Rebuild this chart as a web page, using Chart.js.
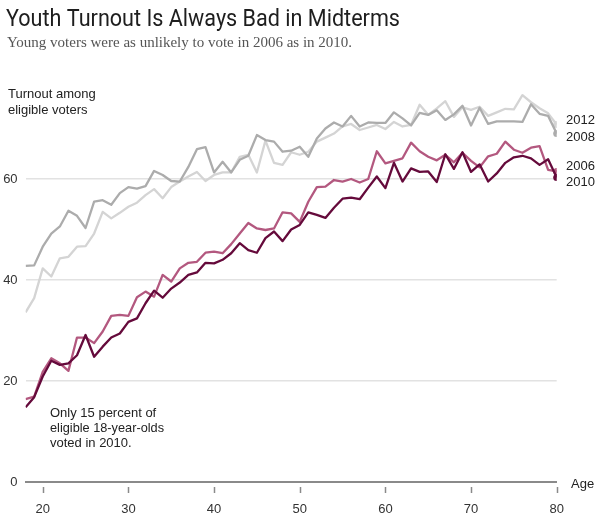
<!DOCTYPE html>
<html>
<head>
<meta charset="utf-8">
<script src="https://cdn.jsdelivr.net/npm/chart.js@4.4.1/dist/chart.umd.min.js"></script>
<style>
  html, body { margin: 0; padding: 0; background: #ffffff; }
  #wrap { width: 607px; height: 522px; }
</style>
</head>
<body>
<div id="wrap"><canvas id="c" width="607" height="522"></canvas></div>
<script>
const ages = [18,19,20,21,22,23,24,25,26,27,28,29,30,31,32,33,34,35,36,37,38,39,40,41,42,43,44,45,46,47,48,49,50,51,52,53,54,55,56,57,58,59,60,61,62,63,64,65,66,67,68,69,70,71,72,73,74,75,76,77,78,79,80];

const turnout2012 = [33.6,36.4,42.3,40.7,44.3,44.6,46.6,46.7,49.2,53.5,52.2,53.3,54.5,55.3,56.8,58.0,56.2,58.4,59.5,60.5,61.4,59.6,60.8,61.3,61.3,64.4,64.8,61.3,67.6,63.2,62.8,65.3,64.8,65.4,67.4,68.2,69.0,70.4,70.9,69.7,70.2,70.7,69.9,71.3,70.4,70.7,74.7,72.7,74.0,75.4,72.3,74.2,73.7,74.3,72.5,73.2,73.9,73.8,76.6,75.2,74.0,73.0,70.8];

const turnout2008 = [42.8,42.9,46.6,49.2,50.6,53.7,52.7,50.3,55.5,55.8,54.9,57.2,58.4,58.1,58.6,61.6,60.8,59.6,59.5,62.4,65.9,66.3,61.3,63.4,61.3,63.8,64.6,68.7,67.7,67.4,65.4,65.6,66.4,64.4,68.0,70.0,71.2,70.4,72.5,70.4,71.2,71.1,71.1,73.2,72.0,70.6,73.1,72.7,73.6,71.7,72.8,74.5,70.6,74.1,70.9,71.4,71.4,71.4,71.3,74.8,72.9,72.5,69.0];

const turnout2006 = [16.4,16.9,21.8,24.5,23.5,22.0,28.6,28.6,27.5,29.8,32.9,33.1,32.9,36.6,37.7,36.7,41.0,39.7,42.3,43.4,43.6,45.4,45.6,45.3,47.1,49.2,51.3,50.2,49.9,50.2,53.4,53.2,51.5,55.5,58.4,58.5,59.8,59.5,60.0,59.3,60.0,65.5,63.1,63.6,64.1,67.2,65.5,64.4,63.7,64.8,63.3,65.2,63.6,62.3,64.5,65.0,67.4,65.8,65.2,66.2,66.5,61.8,61.5];

const turnout2010 = [14.8,16.8,20.9,24.0,23.2,23.5,25.1,29.1,24.8,26.8,28.6,29.4,31.7,32.4,35.4,37.9,36.5,38.3,39.5,41.0,41.5,43.4,43.3,44.0,45.3,47.3,45.9,45.4,48.3,49.6,47.7,50.0,50.9,53.4,52.9,52.3,54.3,56.1,56.3,56.0,58.3,60.5,58.2,63.2,59.5,62.1,61.4,61.5,59.4,64.9,62.0,65.3,61.4,62.9,59.5,61.1,63.2,64.3,64.6,64.1,62.8,63.9,60.3];

const seriesLabels = ['2010', '2006', '2008', '2012'];
const xTickValues = [20, 30, 40, 50, 60, 70, 80];
const yTickValues = [0, 20, 40, 60];

const title = 'Youth Turnout Is Always Bad in Midterms';
const subtitle = 'Young voters were as unlikely to vote in 2006 as in 2010.';
const axisCaption = ['Turnout among', 'eligible voters'];
const note = ['Only 15 percent of', 'eligible 18-year-olds', 'voted in 2010.'];

const colors = { '2010': '#650a3b', '2006': '#b3587f', '2008': '#acacac', '2012': '#d4d4d4' };
const labelOffsets = { '2012': -4.5, '2008': 3.5, '2006': -5.5, '2010': 4.5 };
const seriesData = { '2010': turnout2010, '2006': turnout2006, '2008': turnout2008, '2012': turnout2012 };

function toPoints(arr) { return arr.map((v, i) => ({ x: ages[i], y: v })); }

const SANS = '"Liberation Sans", Arial, sans-serif';

const decor = {
  id: 'decor',
  afterDraw(chart) {
    const ctx = chart.ctx;
    const xs = chart.scales.x, ys = chart.scales.y;
    ctx.save();
    // title
    ctx.fillStyle = '#1e1e1e';
    ctx.textBaseline = 'alphabetic';
    ctx.textAlign = 'left';
    ctx.font = '400 24px Roboto, ' + SANS;
    ctx.fillText(title, 6, 26, 394);
    ctx.fillStyle = '#555';
    ctx.font = '15px "Liberation Serif", "Times New Roman", serif';
    ctx.fillText(subtitle, 7, 47, 351);
    // axis caption
    ctx.fillStyle = '#222';
    ctx.font = '13px ' + SANS;
    ctx.fillText(axisCaption[0], 8, 97.5, 91);
    ctx.fillText(axisCaption[1], 8, 113.5, 91);
    // note
    note.forEach((t, i) => ctx.fillText(t, 50, 416.5 + i * 15, 114));
    // Age label
    ctx.textBaseline = 'middle';
    ctx.fillText('Age', 571, 484);
    // series labels
    const last = ages.length - 1;
    seriesLabels.forEach(k => {
      const y = ys.getPixelForValue(seriesData[k][last]) + labelOffsets[k];
      ctx.fillText(k, 566, y);
    });
    // x tick marks
    ctx.strokeStyle = '#8a8a8a';
    ctx.lineWidth = 1.5;
    xTickValues.forEach(v => {
      const px = Math.round(xs.getPixelForValue(v)) + 0.5;
      ctx.beginPath();
      ctx.moveTo(px, 487);
      ctx.lineTo(px, 493);
      ctx.stroke();
    });
    ctx.restore();
  }
};

const datasets = seriesLabels.map(k => ({
  label: k,
  data: toPoints(seriesData[k]),
  borderColor: colors[k],
  backgroundColor: colors[k],
  borderWidth: 2.3,
  tension: 0,
  borderJoinStyle: 'round',
  pointRadius: ctx => ctx.dataIndex === ages.length - 1 ? 3.5 : 0,
  pointHoverRadius: 0,
  pointBorderWidth: 0,
  fill: false
}));

new Chart(document.getElementById('c'), {
  type: 'line',
  data: { datasets },
  options: {
    responsive: false,
    animation: false,
    events: [],
    layout: { padding: { top: 78, right: 50.3, left: 0, bottom: 0 } },
    plugins: { legend: { display: false }, tooltip: { enabled: false }, title: { display: false } },
    scales: {
      x: {
        type: 'linear',
        min: 18,
        max: 80,
        afterBuildTicks: s => { s.ticks = xTickValues.map(v => ({ value: v })); },
        afterFit: s => { s.height = 40; },
        grid: { display: true, drawOnChartArea: false, drawTicks: false },
        border: { display: true, color: '#8a8a8a', width: 2 },
        ticks: { color: '#333', font: { family: SANS, size: 13 }, padding: 20, maxRotation: 0, autoSkip: false }
      },
      y: {
        type: 'linear',
        min: 0,
        max: 80,
        afterBuildTicks: s => { s.ticks = yTickValues.concat([80]).map(v => ({ value: v })); },
        afterFit: s => { s.width = 25.6; },
        grid: {
          drawTicks: false,
          color: c => (c.tick && (c.tick.value === 0 || c.tick.value === 80)) ? 'rgba(0,0,0,0)' : '#e2e2e2',
          lineWidth: 1.4
        },
        border: { display: false },
        ticks: {
          color: '#333',
          font: { family: SANS, size: 13 },
          padding: 8,
          callback: v => (v === 80 ? '' : String(v))
        }
      }
    }
  },
  plugins: [decor]
});
</script>
</body>
</html>
